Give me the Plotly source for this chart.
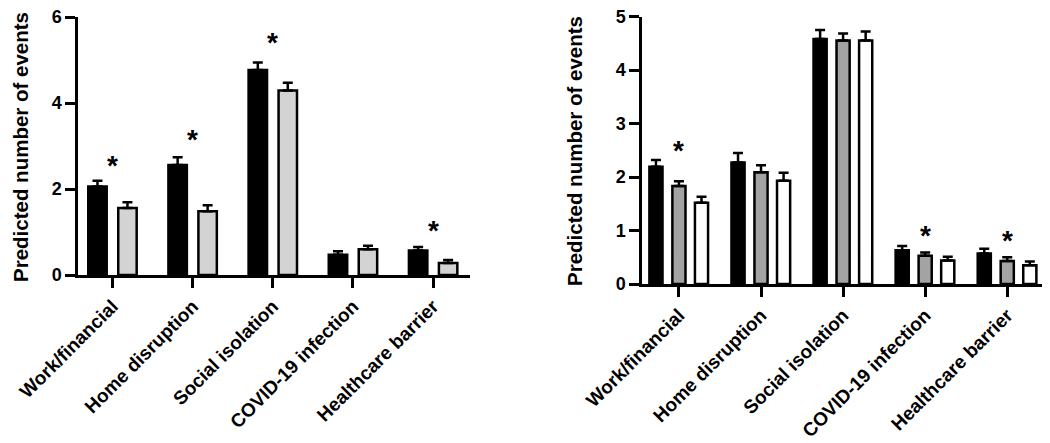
import plotly.graph_objects as go

categories = ["Work/financial", "Home disruption", "Social isolation",
              "COVID-19 infection", "Healthcare barrier"]

# Left panel (two groups)
left_black = [2.06, 2.56, 4.77, 0.47, 0.57]
left_black_err = [0.13, 0.18, 0.17, 0.08, 0.08]
left_gray = [1.56, 1.48, 4.29, 0.60, 0.28]
left_gray_err = [0.13, 0.14, 0.18, 0.08, 0.07]
left_star_cats = ["Work/financial", "Home disruption", "Social isolation", "Healthcare barrier"]
left_star_y = [2.72, 3.32, 5.58, 1.20]

# Right panel (three groups)
right_black = [2.19, 2.27, 4.58, 0.63, 0.57]
right_black_err = [0.13, 0.18, 0.17, 0.08, 0.09]
right_gray = [1.83, 2.09, 4.55, 0.53, 0.43]
right_gray_err = [0.09, 0.13, 0.13, 0.06, 0.07]
right_white = [1.52, 1.93, 4.55, 0.44, 0.35]
right_white_err = [0.11, 0.15, 0.17, 0.07, 0.07]
right_star_cats = ["Work/financial", "COVID-19 infection", "Healthcare barrier"]
right_star_y = [2.62, 1.04, 0.95]

left_ticks = [0, 2, 4, 6]
right_ticks = [0, 1, 2, 3, 4, 5]

FONT = "Liberation Sans, Arial, Helvetica, sans-serif"

# page has an 8px body margin; figure occupies the rest of the window
OFF = 8
W, H = 1050 - OFF, 443 - OFF


def px_x(X):
    return (X - OFF) / W


def px_y(Y):
    return 1 - (Y - OFF) / H


fig = go.Figure()


def add_bar(vals, err, fill, xa, ya, w, off):
    fig.add_trace(go.Bar(
        x=categories, y=vals, width=w, offset=off,
        marker=dict(color=fill, line=dict(color="black", width=2.5)),
        error_y=dict(type="data", symmetric=False, array=err,
                     arrayminus=[0] * len(err), color="black",
                     thickness=2.5, width=5),
        xaxis=xa, yaxis=ya, showlegend=False,
    ))


add_bar(left_black, left_black_err, "black", "x", "y", 0.23, -0.302)
add_bar(left_gray, left_gray_err, "#d3d3d3", "x", "y", 0.23, 0.072)

add_bar(right_black, right_black_err, "black", "x2", "y2", 0.16, -0.36)
add_bar(right_gray, right_gray_err, "#a3a3a3", "x2", "y2", 0.16, -0.08)
add_bar(right_white, right_white_err, "white", "x2", "y2", 0.16, 0.195)

annotations = []
for c, yv in zip(left_star_cats, left_star_y):
    annotations.append(dict(x=c, y=yv, xref="x", yref="y", text="*",
                            showarrow=False, yshift=-7,
                            font=dict(family=FONT, size=28, color="black", weight="bold")))
for c, yv in zip(right_star_cats, right_star_y):
    annotations.append(dict(x=c, y=yv, xref="x2", yref="y2", text="*",
                            showarrow=False, yshift=-7,
                            font=dict(family=FONT, size=28, color="black", weight="bold")))

ytitle = "Predicted number of events"
annotations.append(dict(x=px_x(20), y=px_y(147), xref="paper", yref="paper",
                        text=ytitle, textangle=-90, showarrow=False,
                        xanchor="center", yanchor="middle",
                        font=dict(family=FONT, size=20.5, color="black", weight="bold")))
annotations.append(dict(x=px_x(574), y=px_y(151), xref="paper", yref="paper",
                        text=ytitle, textangle=-90, showarrow=False,
                        xanchor="center", yanchor="middle",
                        font=dict(family=FONT, size=20.5, color="black", weight="bold")))

xcommon = dict(type="category", showline=True, linewidth=2.5, linecolor="black",
               ticks="outside", ticklen=10, tickwidth=2.5, tickcolor="black",
               tickangle=-45, showgrid=False, zeroline=False, automargin=False,
               ticklabeloverflow="allow",
               tickfont=dict(family=FONT, size=19, color="black", weight="bold"))
ycommon = dict(showline=True, linewidth=2.5, linecolor="black",
               ticks="outside", ticklen=10, tickwidth=2.5, tickcolor="black",
               showgrid=False, zeroline=False, automargin=False,
               ticklabeloverflow="allow",
               tickfont=dict(family=FONT, size=18, color="black", weight="bold"))

fig.update_layout(
    width=W, height=H, autosize=False,
    margin=dict(l=0, r=0, t=0, b=0, autoexpand=False),
    paper_bgcolor="white", plot_bgcolor="white",
    barmode="overlay",
    xaxis=dict(domain=[px_x(78), px_x(470)], range=[-0.43, 4.46], anchor="y", **xcommon),
    yaxis=dict(domain=[px_y(275), px_y(17)], range=[0, 6], tickvals=left_ticks,
               anchor="x", **ycommon),
    xaxis2=dict(domain=[px_x(642), px_x(1045)], range=[-0.45, 4.46], anchor="y2", **xcommon),
    yaxis2=dict(domain=[px_y(284), px_y(16.5)], range=[0, 5], tickvals=right_ticks,
                anchor="x2", **ycommon),
    annotations=annotations,
)

fig.write_html("out.html")
